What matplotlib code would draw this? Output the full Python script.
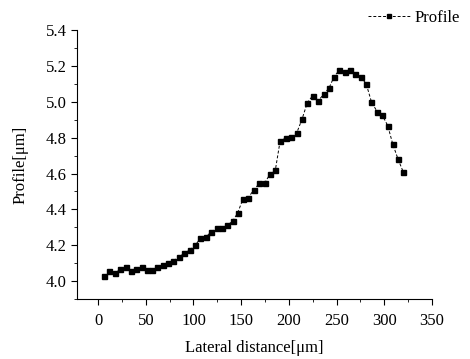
import matplotlib
matplotlib.use("Agg")
import matplotlib.pyplot as plt
from matplotlib.ticker import MultipleLocator

# data
lateral = [6.6, 11.9, 17.8, 23.4, 29.0, 34.6, 40.2, 45.8, 51.4, 57.0,
           62.2, 67.8, 73.4, 79.0, 84.9, 90.5, 96.1, 101.7, 107.3, 112.9,
           118.8, 124.4, 129.7, 135.6, 141.2, 146.4, 152.0, 157.5, 163.5, 169.1,
           174.7, 180.3, 185.9, 190.8, 196.7, 202.3, 208.2, 213.8, 219.4, 225.0,
           231.0, 236.6, 242.1, 247.4, 253.0, 258.6, 264.2, 269.7, 275.4, 281.0,
           286.6, 292.6, 297.7, 303.7, 308.9, 314.5, 320.0]
profile = [4.026, 4.059, 4.045, 4.068, 4.076, 4.057, 4.068, 4.077, 4.064, 4.064,
           4.077, 4.089, 4.102, 4.114, 4.136, 4.155, 4.176, 4.199, 4.239, 4.248,
           4.274, 4.295, 4.295, 4.312, 4.335, 4.381, 4.460, 4.466, 4.511, 4.545,
           4.547, 4.598, 4.621, 4.780, 4.799, 4.803, 4.826, 4.903, 4.996, 5.034,
           5.007, 5.043, 5.077, 5.140, 5.178, 5.168, 5.178, 5.153, 5.138, 5.102,
           5.000, 4.945, 4.928, 4.867, 4.765, 4.680, 4.608]

plt.rcParams['font.family'] = ['Liberation Serif', 'DejaVu Serif']

fig = plt.figure(figsize=(4.7, 3.59), dpi=100)
ax = fig.add_axes([0.164, 0.167, 0.755, 0.749])

ax.plot(lateral, profile, color='black', linestyle=(0, (3, 2)), linewidth=0.7,
        marker='s', markersize=3.6, label='Profile')

ax.set_xlim(-22, 350)
ax.set_ylim(3.9, 5.4)
ax.xaxis.set_major_locator(MultipleLocator(50))
ax.xaxis.set_minor_locator(MultipleLocator(25))
ax.yaxis.set_major_locator(MultipleLocator(0.2))
ax.yaxis.set_minor_locator(MultipleLocator(0.1))
ax.set_xticks(range(0, 351, 50))
ax.set_yticks([4.0, 4.2, 4.4, 4.6, 4.8, 5.0, 5.2, 5.4])
ax.set_yticklabels(['4.0', '4.2', '4.4', '4.6', '4.8', '5.0', '5.2', '5.4'])

for side in ['top', 'right']:
    ax.spines[side].set_visible(False)
ax.tick_params(axis='both', which='major', direction='out', length=4, width=0.8,
               labelsize=12)
ax.tick_params(axis='x', which='major', pad=6)
ax.tick_params(axis='both', which='minor', direction='out', length=2, width=0.6)

ax.set_xlabel('Lateral distance[μm]', fontsize=12, labelpad=8)
ax.set_ylabel('Profile[μm]', fontsize=12, labelpad=12)

fig.legend(loc='upper right', bbox_to_anchor=(1.0, 1.0), frameon=False,
           fontsize=12, handlelength=2.5, handletextpad=0.3, borderaxespad=0.2,
           markerscale=0.8)

fig.savefig('out.png', dpi=100)
